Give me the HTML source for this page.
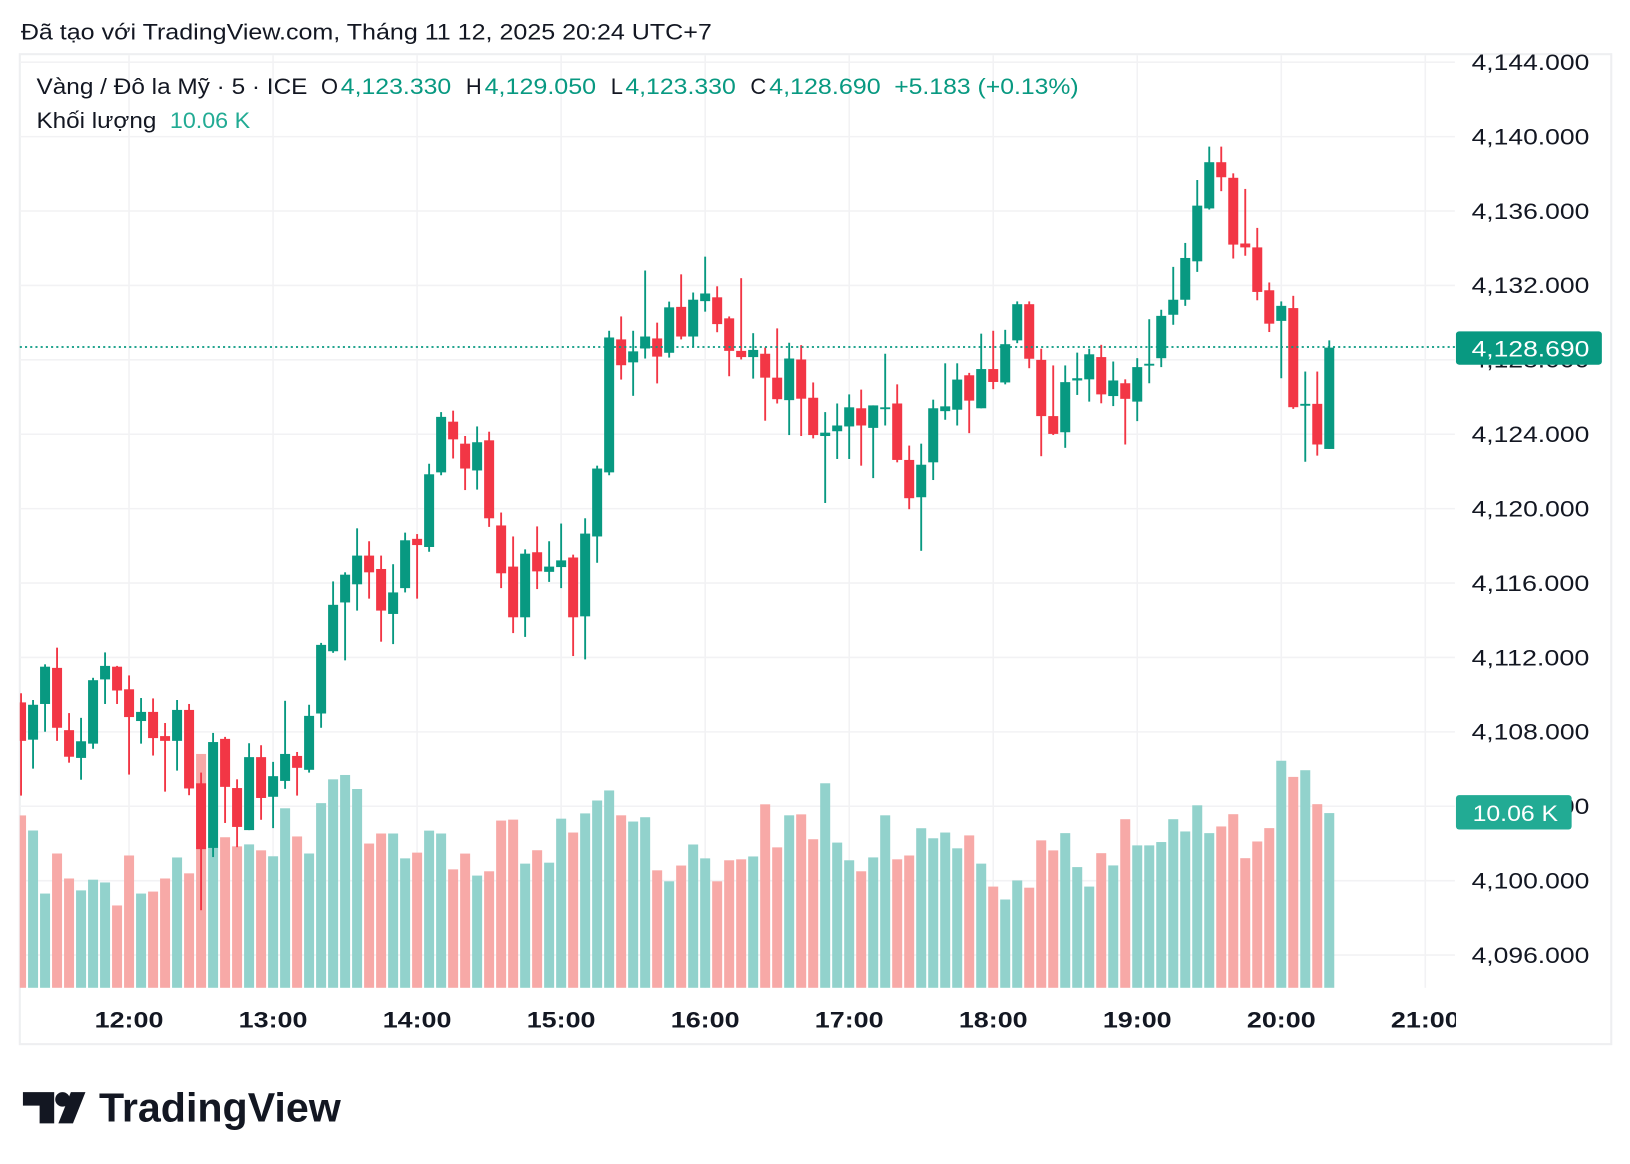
<!DOCTYPE html>
<html><head><meta charset="utf-8">
<style>
html,body{margin:0;padding:0;background:#fff;}
svg{display:block;}
text{font-family:"Liberation Sans","DejaVu Sans",sans-serif;}
</style></head>
<body>
<svg id="s" xmlns="http://www.w3.org/2000/svg" width="1630" height="1164" viewBox="0 0 1564 1117" preserveAspectRatio="none">
<rect x="0" y="0" width="1564" height="1117" fill="#fff"/>
<text x="20" y="38" font-size="21" fill="#131722" textLength="663" lengthAdjust="spacingAndGlyphs">Đã tạo với TradingView.com, Tháng 11 12, 2025 20:24 UTC+7</text>
<rect x="19" y="52" width="1527" height="950" fill="none" stroke="#eeeff1" stroke-width="2"/>
<g id="grid"></g>
<g id="vol"></g>
<g id="cdl"></g>
<line x1="19" y1="333" x2="1396" y2="333" stroke="#089981" stroke-width="1.6" stroke-dasharray="2,3"/>
<g id="axis" font-size="21" fill="#131722"></g>
<rect x="1397" y="318" width="140" height="32" rx="3" fill="#089981"/>
<text x="1412" y="342" font-size="21" fill="#fff" textLength="113" lengthAdjust="spacingAndGlyphs">4,128.690</text>
<rect x="1397" y="763" width="111" height="33" rx="3" fill="#22ab94"/>
<text x="1413" y="788" font-size="21" fill="#fff" textLength="82" lengthAdjust="spacingAndGlyphs">10.06 K</text>
<g font-size="21">
<text x="35" y="90" fill="#131722" textLength="260" lengthAdjust="spacingAndGlyphs">Vàng / Đô la Mỹ · 5 · ICE</text>
<text x="308" y="90" fill="#131722">O</text><text x="327" y="90" fill="#089981" textLength="106" lengthAdjust="spacingAndGlyphs">4,123.330</text>
<text x="447" y="90" fill="#131722">H</text><text x="465" y="90" fill="#089981" textLength="107" lengthAdjust="spacingAndGlyphs">4,129.050</text>
<text x="586" y="90" fill="#131722">L</text><text x="600" y="90" fill="#089981" textLength="106" lengthAdjust="spacingAndGlyphs">4,123.330</text>
<text x="720" y="90" fill="#131722">C</text><text x="738" y="90" fill="#089981" textLength="107" lengthAdjust="spacingAndGlyphs">4,128.690</text>
<text x="858" y="90" fill="#089981" textLength="177" lengthAdjust="spacingAndGlyphs">+5.183 (+0.13%)</text>
<text x="35" y="123" fill="#131722" textLength="115" lengthAdjust="spacingAndGlyphs">Khối lượng</text>
<text x="163" y="123" fill="#22ab94" textLength="77" lengthAdjust="spacingAndGlyphs">10.06 K</text>
</g>
<g fill="#131722">
<path d="M22 1048 H52 V1078 H38 V1061 H22 Z"/>
<circle cx="60" cy="1055" r="7"/>
<path d="M68 1048 H82 L70 1078 H56 Z"/>
</g>
<text x="95" y="1076" font-size="39" font-weight="bold" fill="#131722" textLength="232" lengthAdjust="spacingAndGlyphs">TradingView</text>
</svg>
<script>
var NS="http://www.w3.org/2000/svg";
function el(p,t,a,txt){var e=document.createElementNS(NS,t);for(var k in a)e.setAttribute(k,a[k]);if(txt)e.textContent=txt;document.getElementById(p).appendChild(e);return e;}
var h3=function(z){return 362.7+0.3806*z;};
var f45=function(z){return 239.4+0.459*z;};
var g6=function(z){return 123.6+0.5343*z;};
var Z3=[[818,915,795,1053,1103],[912,824,812,985,1141],[822,728,722,892,1300],[731,882,680,915,1199],[888,955,845,970,1262],[958,916,857,1013,1292],[922,762,756,935,1265],[760,726,692,822,1272],[728,788,726,822,1330],[785,855,750,1000,1204],[865,842,807,922,1300],[842,908,808,952,1295],[903,915,870,1043,1262],[915,837,812,990,1209],[837,1035,822,1052,1249],[1022,1188,995,1342,948],[1185,918,895,1208,1185],[910,1031,905,1122,1158],[1034,1132,1012,1183,1181],[1140,956,921,1140,1176],[956,1059,926,1114,1191],[1056,1004,968,1135,1206],[1016,948,814,1036,1085],[953,983,943,1053,1156],[988,852,824,995,1199],[846,673,668,882,1072],[689,572,513,693,1012],[566,496,490,712,1001]];
var Z4=[[700,640,583,755,1128],[640,675,610,730,1242],[668,755,640,820,1221],[762,717,658,825,1221],[708,608,592,717,1273],[605,618,595,730,1261],[622,470,448,632,1215],[466,350,340,472,1221],[360,397,337,437,1296],[406,458,390,503,1263],[462,403,370,502,1309],[399,562,381,580,1300],[577,677,550,708,1194],[663,769,600,802,1192],[769,636,627,810,1284],[633,673,579,710,1256],[674,663,610,695,1282],[664,650,573,708,1190],[644,769,638,850,1219],[767,594,562,857,1179],[600,458,452,655,1152],[466,184,170,472,1131],[188,242,140,272,1183],[236,213,170,306,1196],[207,182,44,228,1187],[186,224,153,280,1298],[216,121,109,226,1321],
[120,182,52,188,1288],[182,105,90,205,1244],[108,92,15,130,1273],[100,156,77,173,1321],[144,212,140,265,1277],[212,225,60,230,1275],[225,210,175,270,1269],[218,268,205,358,1160],[268,313,165,322,1250],[315,228,195,388,1183],[230,312,200,390,1181],[310,388,278,395,1233],[390,383,340,530,1116],[380,368,322,438,1240],[370,330,303,438,1277],[332,368,293,452,1300],[373,326,326,478,1271],[333,330,218,368,1183],[322,440,282,445,1275],[440,520,410,543,1267],[518,450,406,630,1210],[445,332,314,482,1231],[338,328,238,356,1219],[335,272,238,368,1252],[263,316,258,384,1225],[332,250,176,332,1284],[250,277,170,292,1332],[278,198,168,282,1359]];
var Z6=[[380,315,310,385,1350],[315,413,310,430,1363],[415,516,395,588,1278],[516,548,425,550,1296],[545,455,425,573,1265],[452,448,402,478,1326],[450,405,395,490,1361],[410,477,388,493,1301],[480,452,418,498,1323],[457,485,450,567,1240],[490,428,412,525,1287],[425,422,342,457,1287],[412,336,325,428,1281],[334,307,248,352,1240],[307,232,205,318,1262],[238,138,92,257,1215],[143,60,32,145,1265],[60,87,32,112,1253],[88,208,80,233,1231],[206,213,108,228,1310],[213,293,178,308,1280],[290,350,276,365,1256],[345,318,310,448,1135],[322,500,300,503,1164],[494,494,436,598,1152],[494,567,436,587,1213],[575,393,380,575,1229]];
var C=[];
Z3.forEach(function(d){C.push(d.map(h3));});
Z4.forEach(function(d){C.push(d.map(f45));});
Z6.forEach(function(d){C.push(d.map(g6));});
for(var p=4144;p>=4096;p-=4){var y=59.7+(4144-p)/4*71.4;
 el("grid","line",{x1:19,x2:1396,y1:y,y2:y,stroke:"#f2f2f4","stroke-width":1.5});
 var lab="4,"+String(p).slice(1)+".000";
 el("axis","text",{x:1412,y:y+7.5,textLength:113,lengthAdjust:"spacingAndGlyphs"},lab);}
var hrs=["12:00","13:00","14:00","15:00","16:00","17:00","18:00","19:00","20:00","21:00"];
for(var i=0;i<10;i++){var x=123.8+i*138.2;
 el("grid","line",{x1:x,x2:x,y1:53,y2:948,stroke:"#f2f2f4","stroke-width":1.5});
 el("axis","text",{x:x,y:986,"text-anchor":"middle","font-weight":"bold",textLength:66,lengthAdjust:"spacingAndGlyphs"},hrs[i]);}
el("axis","rect",{x:1397,y:960,width:30,height:36,fill:"#fff"});
var cp=el("grid","clipPath",{id:"cp"});var r=document.createElementNS(NS,"rect");r.setAttribute("x",19);r.setAttribute("y",53);r.setAttribute("width",1377);r.setAttribute("height",895);cp.appendChild(r);
document.getElementById("vol").setAttribute("clip-path","url(#cp)");
document.getElementById("cdl").setAttribute("clip-path","url(#cp)");
C.forEach(function(d,i){var x=20.2+i*11.516;var o=d[0],c=d[1],h=d[2],l=d[3],v=d[4];
 var up=c<=o;var col=up?"#089981":"#f23645";var vc=up?"#92d2cc":"#f7a9a7";
 el("vol","rect",{x:x-4.8,y:v,width:9.6,height:Math.max(0,948-v),fill:vc});
 el("cdl","rect",{x:x-0.9,y:h,width:1.8,height:l-h,fill:col});
 var top=Math.min(o,c),bh=Math.max(1.8,Math.abs(o-c));
 el("cdl","rect",{x:x-4.8,y:top,width:9.6,height:bh,fill:col});});
</script>
</body></html>
